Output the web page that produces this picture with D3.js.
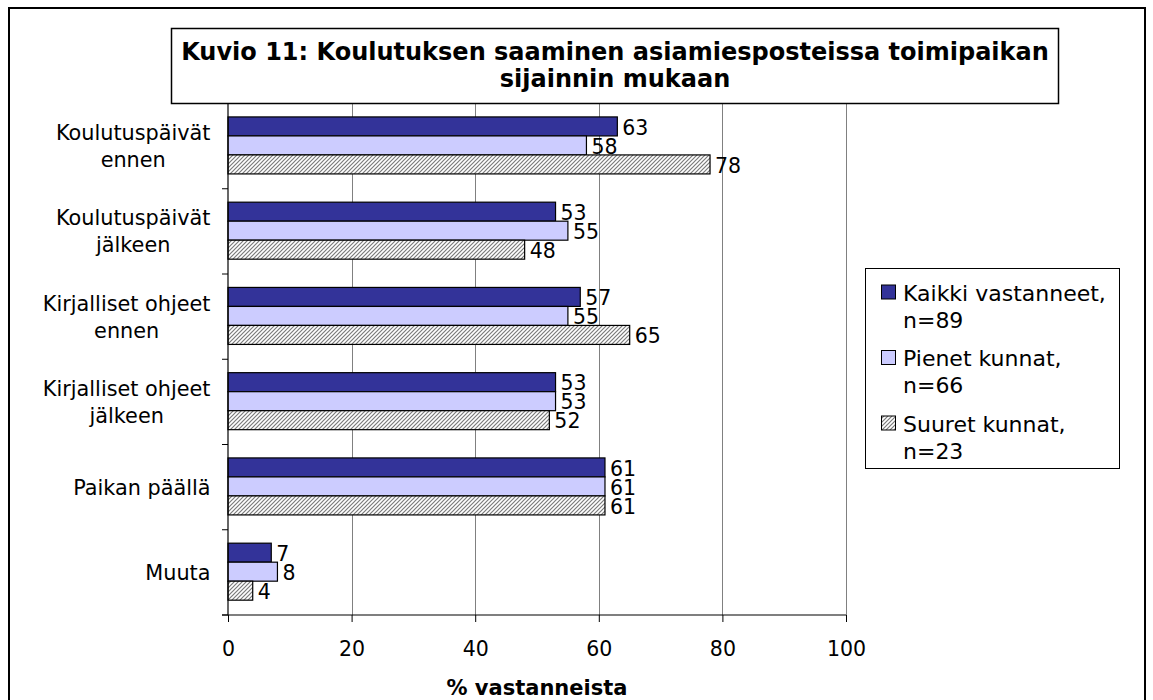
<!DOCTYPE html>
<html><head><meta charset="utf-8">
<script src="https://cdn.jsdelivr.net/npm/d3@7"></script>
<style>body{margin:0;background:#fff;}svg{display:block;font-family:"DejaVu Sans",Verdana,sans-serif;}</style>
</head><body>
<svg id="c" width="1153" height="700"></svg>
<script>
const categories = [["Koulutuspäivät","ennen"],["Koulutuspäivät","jälkeen"],["Kirjalliset ohjeet","ennen"],["Kirjalliset ohjeet","jälkeen"],["Paikan päällä"],["Muuta"]];
const seriesNames = [["Kaikki vastanneet,","n=89"],["Pienet kunnat,","n=66"],["Suuret kunnat,","n=23"]];
const kaikki = [63,53,57,53,61,7];
const pienet = [58,55,55,53,61,8];
const suuret = [78,48,65,52,61,4];
const xTicks = [0,20,40,60,80,100];
const titleLines = ["Kuvio 11: Koulutuksen saaminen asiamiesposteissa toimipaikan","sijainnin mukaan"];
const axisTitle = "% vastanneista";

const series = [kaikki, pienet, suuret];
const svg = d3.select("#c");
const defs = svg.append("defs");
const pat = defs.append("pattern").attr("id","hatch").attr("patternUnits","userSpaceOnUse")
  .attr("width",4).attr("height",4);
pat.append("rect").attr("width",4).attr("height",4).attr("fill","#fff");
pat.append("path").attr("d","M-1,1 l2,-2 M0,4 l4,-4 M3,5 l2,-2").attr("stroke","#7a7a7a").attr("stroke-width",1.2);
const fills = ["#333399","#ccccff","url(#hatch)"];

// outer frame
svg.append("rect").attr("x",9).attr("y",8).attr("width",1136).attr("height",720)
  .attr("fill","none").attr("stroke","#000").attr("stroke-width",2);

const L=228, R=846, T=103.5, B=615;
const x = d3.scaleLinear().domain([0,100]).range([L,R]);
const y = d3.scaleBand().domain(d3.range(categories.length)).range([T,B]).paddingInner(0).paddingOuter(0);
const barH = 19;

// gridlines
svg.append("g").selectAll("line").data(xTicks.slice(1)).join("line")
  .attr("x1",d=>Math.round(x(d))+0.5).attr("x2",d=>Math.round(x(d))+0.5)
  .attr("y1",T).attr("y2",B).attr("stroke","#808080").attr("stroke-width",1);
svg.append("line").attr("x1",L).attr("x2",R).attr("y1",T).attr("y2",T).attr("stroke","#808080");

// bars
const g = svg.append("g");
categories.forEach((c,i)=>{
  const y0 = y(i) + (y.bandwidth()-3*barH)/2 - 0.7;
  series.forEach((s,j)=>{
    g.append("rect").attr("x",x(0)).attr("y",y0+j*barH).attr("width",x(s[i])-x(0)).attr("height",barH)
      .attr("fill",fills[j]).attr("stroke","#000").attr("stroke-width",1.2);
  });
  series.forEach((s,j)=>{
    g.append("text").attr("x",x(s[i])+5).attr("y",y0+j*barH+barH/2).attr("dy","0.4em")
      .attr("font-size",20.5).attr("fill","#000").text(s[i]);
  });
});

// axes
const xAxis = d3.axisBottom(x).tickValues(xTicks).tickSize(7).tickPadding(0).tickFormat(d3.format("d"));
const xg = svg.append("g").attr("transform",`translate(0,${B})`).call(xAxis);
xg.select(".domain").remove();
xg.selectAll(".tick line").attr("stroke","#000");
xg.selectAll("text").attr("font-size",20.5).attr("font-family","DejaVu Sans, Verdana, sans-serif")
  .attr("y",41).attr("dy",0).attr("fill","#000");
svg.append("line").attr("x1",L-6).attr("x2",R).attr("y1",B).attr("y2",B).attr("stroke","#000").attr("stroke-width",1.2);

const yEdges = d3.range(categories.length+1).map(i=> i<categories.length ? y(i) : B);
svg.append("g").selectAll("line").data(yEdges).join("line")
  .attr("x1",L-6).attr("x2",L).attr("y1",d=>d).attr("y2",d=>d).attr("stroke","#000");
svg.append("line").attr("x1",L).attr("x2",L).attr("y1",T).attr("y2",B).attr("stroke","#000").attr("stroke-width",1.2);

// category labels: block right-aligned at 210, lines centred within block
const catRight = 210.5;
categories.forEach((c,i)=>{
  const cy = y(i)+y.bandwidth()/2;
  const t = svg.append("text").attr("text-anchor","middle").attr("font-size",20.8).attr("fill","#000");
  const spans = c.map((line,k)=> t.append("tspan").text(line));
  const maxW = d3.max(spans, s=>s.node().getComputedTextLength());
  const cx = catRight - maxW/2;
  const lh = 27;
  spans.forEach((s,k)=> s.attr("x",cx).attr("y", cy + 7.5 + (k-(c.length-1)/2)*lh));
});

// axis title
svg.append("text").attr("x",(L+R)/2).attr("y",695).attr("text-anchor","middle")
  .attr("font-size",21).attr("font-weight","bold").text(axisTitle);

// title box
svg.append("rect").attr("x",171.5).attr("y",28.5).attr("width",887).attr("height",75)
  .attr("fill","#fff").attr("stroke","#000").attr("stroke-width",1.5);
titleLines.forEach((t,k)=>{
  svg.append("text").attr("x",615).attr("y",59.5+k*27.5).attr("text-anchor","middle")
    .attr("font-size",24).attr("font-weight","bold").text(t);
});

// legend
svg.append("rect").attr("x",865.5).attr("y",268.5).attr("width",254).attr("height",200)
  .attr("fill","#fff").attr("stroke","#000").attr("stroke-width",1);
seriesNames.forEach((n,j)=>{
  const ty = 300.5 + j*65.5;
  svg.append("rect").attr("x",881.5).attr("y",ty-15.5).attr("width",14).attr("height",14)
    .attr("fill",fills[j]).attr("stroke","#000").attr("stroke-width",1);
  n.forEach((line,k)=>{
    svg.append("text").attr("x",903).attr("y",ty+k*27).attr("font-size",22).text(line);
  });
});
</script>
</body></html>
